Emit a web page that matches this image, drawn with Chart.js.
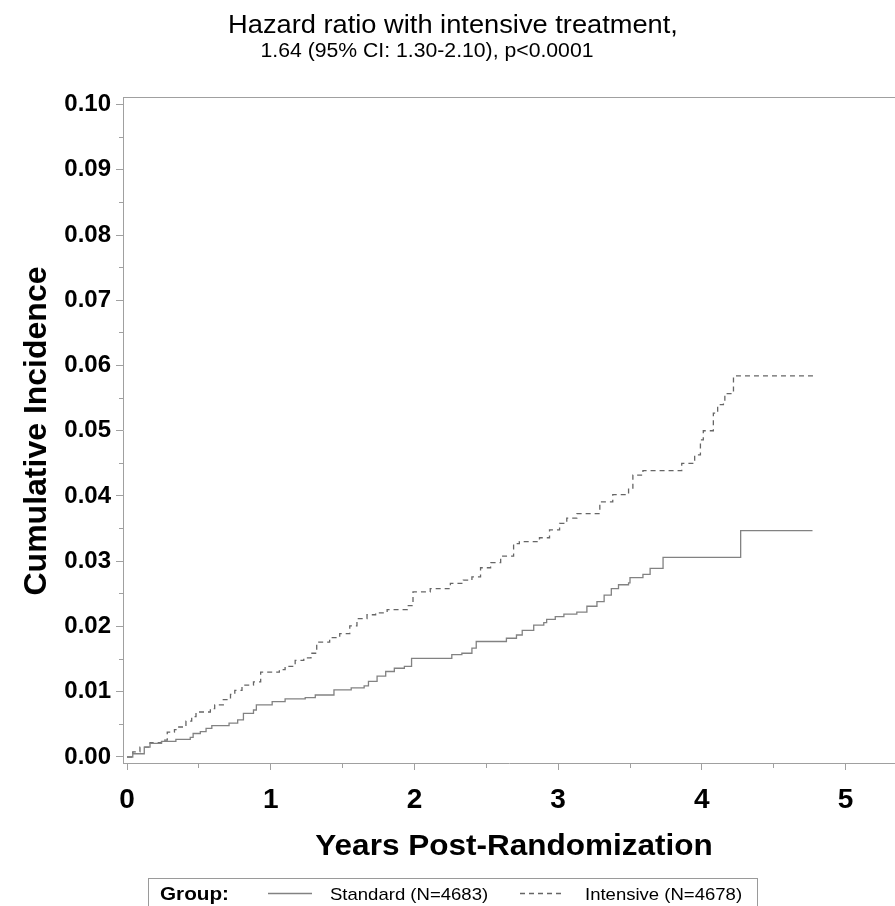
<!DOCTYPE html>
<html>
<head>
<meta charset="utf-8">
<title>Cumulative Incidence</title>
<script src="https://cdn.jsdelivr.net/npm/chart.js@4.4.1/dist/chart.umd.min.js"></script>
<style>
    html, body { margin: 0; padding: 0; background: #ffffff; }
    #contenedor { width: 895px; height: 906px; position: relative; }
</style>
</head>
<body>
<div id="contenedor">
    <canvas id="incidencia-chart" width="895" height="906"></canvas>
</div>
<script>
// Datos (años, incidencia acumulada)
var standardYears = [0, 0.04, 0.12, 0.16, 0.24, 0.34, 0.44, 0.46, 0.51, 0.55, 0.59, 0.71, 0.77, 0.81, 0.88, 0.90,
    1.01, 1.10, 1.24, 1.31, 1.44, 1.56, 1.65, 1.68, 1.74, 1.80, 1.86, 1.93, 1.98, 2.26, 2.33, 2.40, 2.43,
    2.64, 2.71, 2.75, 2.83, 2.90, 2.92, 2.98, 3.04, 3.13, 3.20, 3.27, 3.32, 3.37, 3.42, 3.49, 3.50, 3.59,
    3.64, 3.73, 4.27, 4.77];
var standardIncidence = [0, 0.0005, 0.0015, 0.0021, 0.0024, 0.0027, 0.0030, 0.0036, 0.0039, 0.0044, 0.0048, 0.0052, 0.0057, 0.0067, 0.0072, 0.0080,
    0.0085, 0.0089, 0.0091, 0.0095, 0.0103, 0.0106, 0.0109, 0.0116, 0.0124, 0.0131, 0.0136, 0.0139, 0.0151, 0.0157, 0.0159, 0.0167, 0.0177,
    0.0182, 0.0187, 0.0194, 0.0202, 0.0206, 0.0211, 0.0215, 0.0219, 0.0222, 0.0231, 0.0238, 0.0248, 0.0258, 0.0264, 0.0267, 0.0275, 0.0280,
    0.0289, 0.0306, 0.0347, 0.0347];

var intensiveYears = [0, 0.04, 0.09, 0.16, 0.24, 0.28, 0.33, 0.36, 0.41, 0.45, 0.48, 0.58, 0.61, 0.67, 0.72, 0.75,
    0.80, 0.88, 0.93, 1.06, 1.10, 1.17, 1.23, 1.28, 1.32, 1.41, 1.48, 1.55, 1.60, 1.67, 1.73, 1.81, 1.95,
    1.99, 2.11, 2.25, 2.34, 2.40, 2.46, 2.53, 2.60, 2.69, 2.73, 2.87, 2.94, 3.01, 3.06, 3.13, 3.29, 3.38,
    3.49, 3.52, 3.59, 3.86, 3.95, 3.99, 4.01, 4.08, 4.11, 4.15, 4.16, 4.21, 4.22, 4.78];
var intensiveIncidence = [0, 0.0008, 0.0015, 0.0022, 0.0026, 0.0038, 0.0042, 0.0046, 0.0055, 0.0062, 0.0069, 0.0074, 0.0080, 0.0088, 0.0096, 0.0102,
    0.0110, 0.0115, 0.0130, 0.0134, 0.0139, 0.0148, 0.0152, 0.0159, 0.0176, 0.0183, 0.0189, 0.0201, 0.0212, 0.0218, 0.0221, 0.0226, 0.0232,
    0.0253, 0.0258, 0.0266, 0.0271, 0.0276, 0.0290, 0.0298, 0.0308, 0.0327, 0.0330, 0.0336, 0.0348, 0.0358, 0.0366, 0.0373, 0.0391, 0.0402,
    0.0412, 0.0432, 0.0439, 0.0450, 0.0463, 0.0486, 0.0500, 0.0527, 0.0540, 0.0543, 0.0557, 0.0560, 0.0584, 0.0584];

// Marcas de los ejes (las de .5 y .005 son menores, sin etiqueta)
var xTickValues = [0, 0.5, 1, 1.5, 2, 2.5, 3, 3.5, 4, 4.5, 5];
var yTickValues = [0, 0.005, 0.01, 0.015, 0.02, 0.025, 0.03, 0.035, 0.04, 0.045, 0.05,
    0.055, 0.06, 0.065, 0.07, 0.075, 0.08, 0.085, 0.09, 0.095, 0.1];

// Textos
var chartTitle = 'Hazard ratio with intensive treatment,';
var chartSubtitle = '1.64 (95% CI: 1.30-2.10), p<0.0001';
var xAxisTitle = 'Years Post-Randomization';
var yAxisTitle = 'Cumulative Incidence';
var legendTitle = 'Group:';
var seriesNames = ['Standard (N=4683)', 'Intensive (N=4678)'];

var fuente = "'Liberation Sans', Arial, Helvetica, sans-serif";
var grisEje = '#a0a0a0';

function aPuntos(xs, ys) {
    return xs.map(function (x, i) {
        return { x: x, y: ys[i] };
    });
}

function esMayorX(v) {
    return Math.abs(v - Math.round(v)) < 1e-9;
}

function esMayorY(v) {
    return Math.abs(v * 100 - Math.round(v * 100)) < 1e-6;
}

// Texto con estiramiento horizontal
function escribir(ctx, texto, x, y, font, sx, align) {
    ctx.save();
    ctx.font = font;
    ctx.fillStyle = '#000000';
    ctx.textAlign = align || 'center';
    ctx.textBaseline = 'alphabetic';
    ctx.translate(x, y);
    ctx.scale(sx, 1);
    ctx.fillText(texto, 0, 0);
    ctx.restore();
}

// Plugin para titulos, marco superior y leyenda
var decoracion = {
    id: 'decoracion',
    afterDraw: function (chart) {
        var ctx = chart.ctx;
        var area = chart.chartArea;
        var ds = chart.data.datasets;

        // marco superior
        ctx.save();
        ctx.strokeStyle = grisEje;
        ctx.lineWidth = 1;
        ctx.beginPath();
        ctx.moveTo(area.left, area.top + 0.5);
        ctx.lineTo(area.right, area.top + 0.5);
        ctx.stroke();
        ctx.restore();

        escribir(ctx, chartTitle, 453, 33, '25px ' + fuente, 1.09);
        escribir(ctx, chartSubtitle, 427, 57, '20px ' + fuente, 1.06);
        escribir(ctx, xAxisTitle, 514, 855, 'bold 30px ' + fuente, 1.05);

        // titulo eje Y rotado
        ctx.save();
        ctx.translate(46, 431);
        ctx.rotate(-Math.PI / 2);
        ctx.font = 'bold 32px ' + fuente;
        ctx.fillStyle = '#000000';
        ctx.textAlign = 'center';
        ctx.textBaseline = 'alphabetic';
        ctx.fillText(yAxisTitle, 0, 0);
        ctx.restore();

        // leyenda
        ctx.save();
        ctx.strokeStyle = '#9a9a9a';
        ctx.lineWidth = 1;
        ctx.strokeRect(148.5, 878.5, 609, 40);
        ctx.restore();

        escribir(ctx, legendTitle, 160, 900, 'bold 19px ' + fuente, 1.09, 'left');

        var muestras = [[268, 312, 330], [520, 562, 585]];
        muestras.forEach(function (m, i) {
            ctx.save();
            ctx.strokeStyle = ds[i].borderColor;
            ctx.lineWidth = ds[i].borderWidth;
            ctx.setLineDash(ds[i].borderDash || []);
            ctx.beginPath();
            ctx.moveTo(m[0], 893.5);
            ctx.lineTo(m[1], 893.5);
            ctx.stroke();
            ctx.restore();
            escribir(ctx, seriesNames[i], m[2], 900, '17px ' + fuente, 1.09, 'left');
        });
    }
};

var ctx = document.getElementById('incidencia-chart').getContext('2d');

var incidenciaChart = new Chart(ctx, {
    type: 'line',
    data: {
        datasets: [{
            label: seriesNames[0],
            data: aPuntos(standardYears, standardIncidence),
            borderColor: '#828282',
            borderWidth: 1.3,
            borderDash: [],
            stepped: 'before',
            pointRadius: 0,
            fill: false
        }, {
            label: seriesNames[1],
            data: aPuntos(intensiveYears, intensiveIncidence),
            borderColor: '#666666',
            borderWidth: 1.3,
            borderDash: [5, 4],
            stepped: 'before',
            pointRadius: 0,
            fill: false
        }]
    },
    options: {
        responsive: false,
        animation: false,
        devicePixelRatio: 1,
        layout: {
            padding: { top: 97, left: 0, right: 0, bottom: 0 }
        },
        scales: {
            x: {
                type: 'linear',
                min: -0.028,
                max: 5.344,
                afterBuildTicks: function (scale) {
                    scale.ticks = xTickValues.map(function (v) { return { value: v }; });
                },
                afterFit: function (scale) {
                    scale.height = 143;
                },
                ticks: {
                    autoSkip: false,
                    maxRotation: 0,
                    padding: 13,
                    color: '#000000',
                    font: { family: fuente, size: 28, weight: 'bold' },
                    callback: function (value) {
                        return esMayorX(value) ? String(Math.round(value)) : '';
                    }
                },
                grid: {
                    drawOnChartArea: false,
                    drawTicks: true,
                    tickLength: 7,
                    tickColor: grisEje,
                    tickBorderDash: function (c) {
                        return (c.tick && !esMayorX(c.tick.value)) ? [4, 30] : [];
                    }
                },
                border: { display: true, color: grisEje, width: 1 }
            },
            y: {
                type: 'linear',
                min: -0.00092,
                max: 0.10115,
                afterBuildTicks: function (scale) {
                    scale.ticks = yTickValues.map(function (v) { return { value: v }; });
                },
                afterFit: function (scale) {
                    scale.width = 123;
                },
                ticks: {
                    autoSkip: false,
                    padding: 5,
                    color: '#000000',
                    font: { family: fuente, size: 24, weight: 'bold' },
                    callback: function (value) {
                        return esMayorY(value) ? value.toFixed(2) : '';
                    }
                },
                grid: {
                    drawOnChartArea: false,
                    drawTicks: true,
                    tickLength: 7,
                    tickColor: grisEje,
                    tickBorderDash: function (c) {
                        return (c.tick && !esMayorY(c.tick.value)) ? [0, 3, 4, 30] : [];
                    }
                },
                border: { display: true, color: grisEje, width: 1 }
            }
        },
        plugins: {
            legend: { display: false },
            title: { display: false },
            tooltip: { enabled: false }
        }
    },
    plugins: [decoracion]
});
</script>
</body>
</html>
